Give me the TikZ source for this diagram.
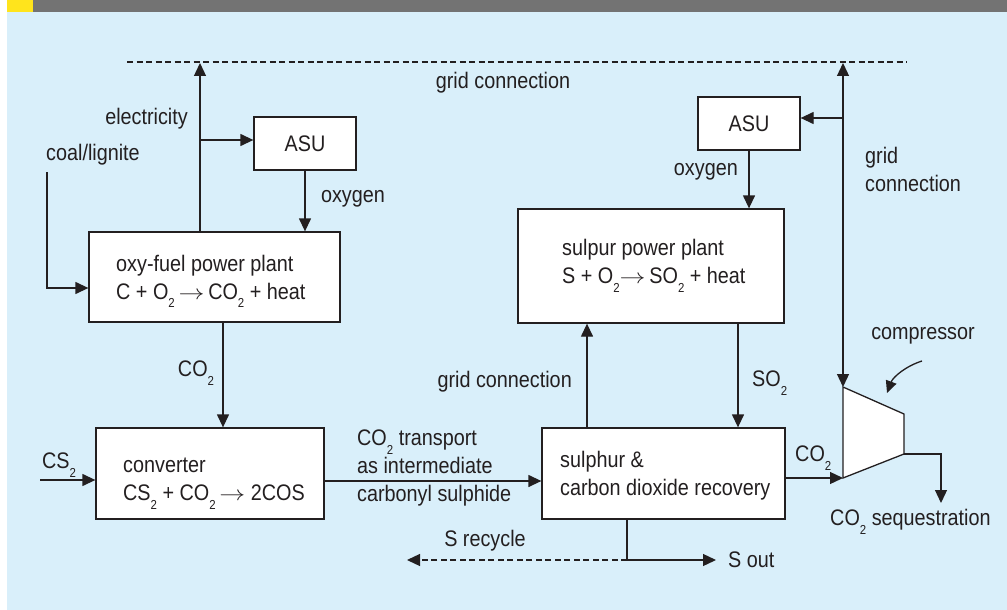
\documentclass[tikz,border=0pt]{standalone}
\usepackage{fontspec}
\setmainfont[FakeStretch=0.88]{Liberation Sans}
\usepackage{graphicx}
\usetikzlibrary{arrows.meta}
\definecolor{bgblue}{HTML}{D9EFFA}
\definecolor{bargrey}{HTML}{737373}
\definecolor{baryellow}{HTML}{FFE41C}
\definecolor{ink}{HTML}{231F20}
\newcommand\subtwo{\smash{\raisebox{-8.5pt}{\fontsize{13}{13}\selectfont 2}}}
\newcommand\rarr{\scalebox{1.25}[1]{$\rightarrow$}}
\tikzset{
  box/.style={draw=ink, line width=1.3pt, fill=white, inner sep=0pt},
  lbl/.style={text=ink, inner sep=0pt, font=\fontsize{22.5}{28}\selectfont, align=left},
  arr/.style={draw=ink, line width=1.3pt, -{Triangle[length=13pt,width=12pt]}},
  ln/.style={draw=ink, line width=1.3pt},
  grid/.style={draw=ink, line width=1.2pt, dash pattern=on 6pt off 3.5pt}
}
\begin{document}
\begin{tikzpicture}[x=1pt,y=-1pt]
\useasboundingbox (0,0) rectangle (1007,610);
% background
\fill[white] (0,0) rectangle (1007,610);
\fill[bgblue] (7,12) rectangle (1007,610);
\fill[bargrey] (33,0) rectangle (1007,12);
\fill[baryellow] (7,0) rectangle (33,12);

% grid line
\draw[grid] (127,62) -- (907,62);
\node[lbl] (gridtop) at (503,83) {grid connection};

% boxes
\node[box, minimum width=102pt, minimum height=53pt] (asuL) at (305,143.5) {};
\node[lbl] (asuLt) at (asuL.center) {ASU};
\node[box, minimum width=251pt, minimum height=90pt] (plantL) at (214.5,277) {};
\node[lbl, anchor=west] (plantLt) at (116,277) {oxy-fuel power plant\\C + O\subtwo\,\rarr\,CO\subtwo\ + heat};
\node[box, minimum width=228pt, minimum height=91pt] (conv) at (210,473.5) {};
\node[lbl, anchor=west] (convt) at (123,479.5) {converter\\CS\subtwo\ + CO\subtwo\,\rarr\ 2COS};
\node[box, minimum width=243pt, minimum height=91pt] (rec) at (663.5,473.5) {};
\node[lbl, anchor=west] (rect) at (560,476) {sulphur \&\\carbon dioxide recovery};
\node[box, minimum width=266pt, minimum height=114pt] (sp) at (651,266) {};
\node[lbl, anchor=west] (spt) at (562,261.5) {sulpur power plant\\S + O\subtwo\rarr\,SO\subtwo\ + heat};
\node[box, minimum width=102pt, minimum height=53pt] (asuR) at (749,123.5) {};
\node[lbl] (asuRt) at (asuR.center) {ASU};

% compressor
\coordinate (ct) at (843,387);
\coordinate (cb) at (843,478);
\coordinate (cr1) at (904,414);
\coordinate (cr2) at (904,454);
\filldraw[ln, fill=white, line join=miter] (ct) -- (cr1) -- (cr2) -- (cb) -- cycle;

% left side connectors
\coordinate (e) at (200,63);
\draw[arr] (plantL.north -| e) -- (e);
\draw[arr] (e |- 0,140) -- (asuL.west |- 0,140);
\node[lbl, anchor=east] (elec) at (188,119) {electricity};
\draw[arr] (asuL.south) -- (asuL.south |- plantL.north);
\node[lbl] (oxL) at (353,199) {oxygen};
\coordinate (coal) at (47,172);
\draw[arr] (coal) |- (plantL.west |- 0,288);
\node[lbl] (coalt) at (93,155) {coal/lignite};
\coordinate (c1) at (223,0);
\draw[arr] (plantL.south -| c1) -- (conv.north -| c1);
\node[lbl] (co2a) at (196,369) {CO\subtwo};
\coordinate (cs2) at (40,480);
\draw[arr] (cs2) -- (cs2 -| conv.west);
\node[lbl] (cs2t) at (59,461) {CS\subtwo};

% middle
\coordinate (t) at (0,481);
\draw[arr] (conv.east |- t) -- (rec.west |- t);
\node[lbl, anchor=west] (transp) at (357,468) {CO\subtwo\ transport\\as intermediate\\carbonyl sulphide};
\coordinate (g) at (587,0);
\draw[arr] (rec.north -| g) -- (sp.south -| g);
\node[lbl, anchor=east] (gridmid) at (572,382) {grid connection};
\coordinate (s) at (738,0);
\draw[arr] (sp.south -| s) -- (rec.north -| s);
\node[lbl, anchor=west] (so2) at (752,379) {SO\subtwo};
\draw[arr] (asuR.south) -- (asuR.south |- sp.north);
\node[lbl, anchor=east] (oxR) at (738,172) {oxygen};

% S out / recycle
\coordinate (so) at (627,560);
\coordinate (sout) at (716,560);
\coordinate (srec) at (407,560);
\draw[arr] (rec.south -| so) |- (sout);
\draw[arr, dash pattern=on 6pt off 3.5pt] (so) -- (srec);
\node[lbl, anchor=west] (soutt) at (728,560) {S out};
\node[lbl] (srect) at (485,541) {S recycle};

% right side
\coordinate (gt) at (843,63);
\draw[ln, {Triangle[length=13pt,width=12pt]}-{Triangle[length=13pt,width=12pt]}] (gt) -- (ct);
\draw[arr] (gt |- 0,118) -- (asuR.east |- 0,118);
\node[lbl, anchor=west] (gridR) at (865,169) {grid\\connection};
\draw[arr] (rec.east |- cb) -- (cb);
\node[lbl, anchor=west] (co2b) at (795,454) {CO\subtwo};
\coordinate (seq) at (941,503);
\draw[arr] (cr2) -| (seq);
\node[lbl, anchor=west] (seqt) at (830,520) {CO\subtwo\ sequestration};
\node[lbl] (compt) at (923,336) {compressor};
\draw[ln, -{Triangle[length=12pt,width=11pt]}] (922,361) .. controls (906,366) and (893,377) .. (887,393);
\end{tikzpicture}
\end{document}
